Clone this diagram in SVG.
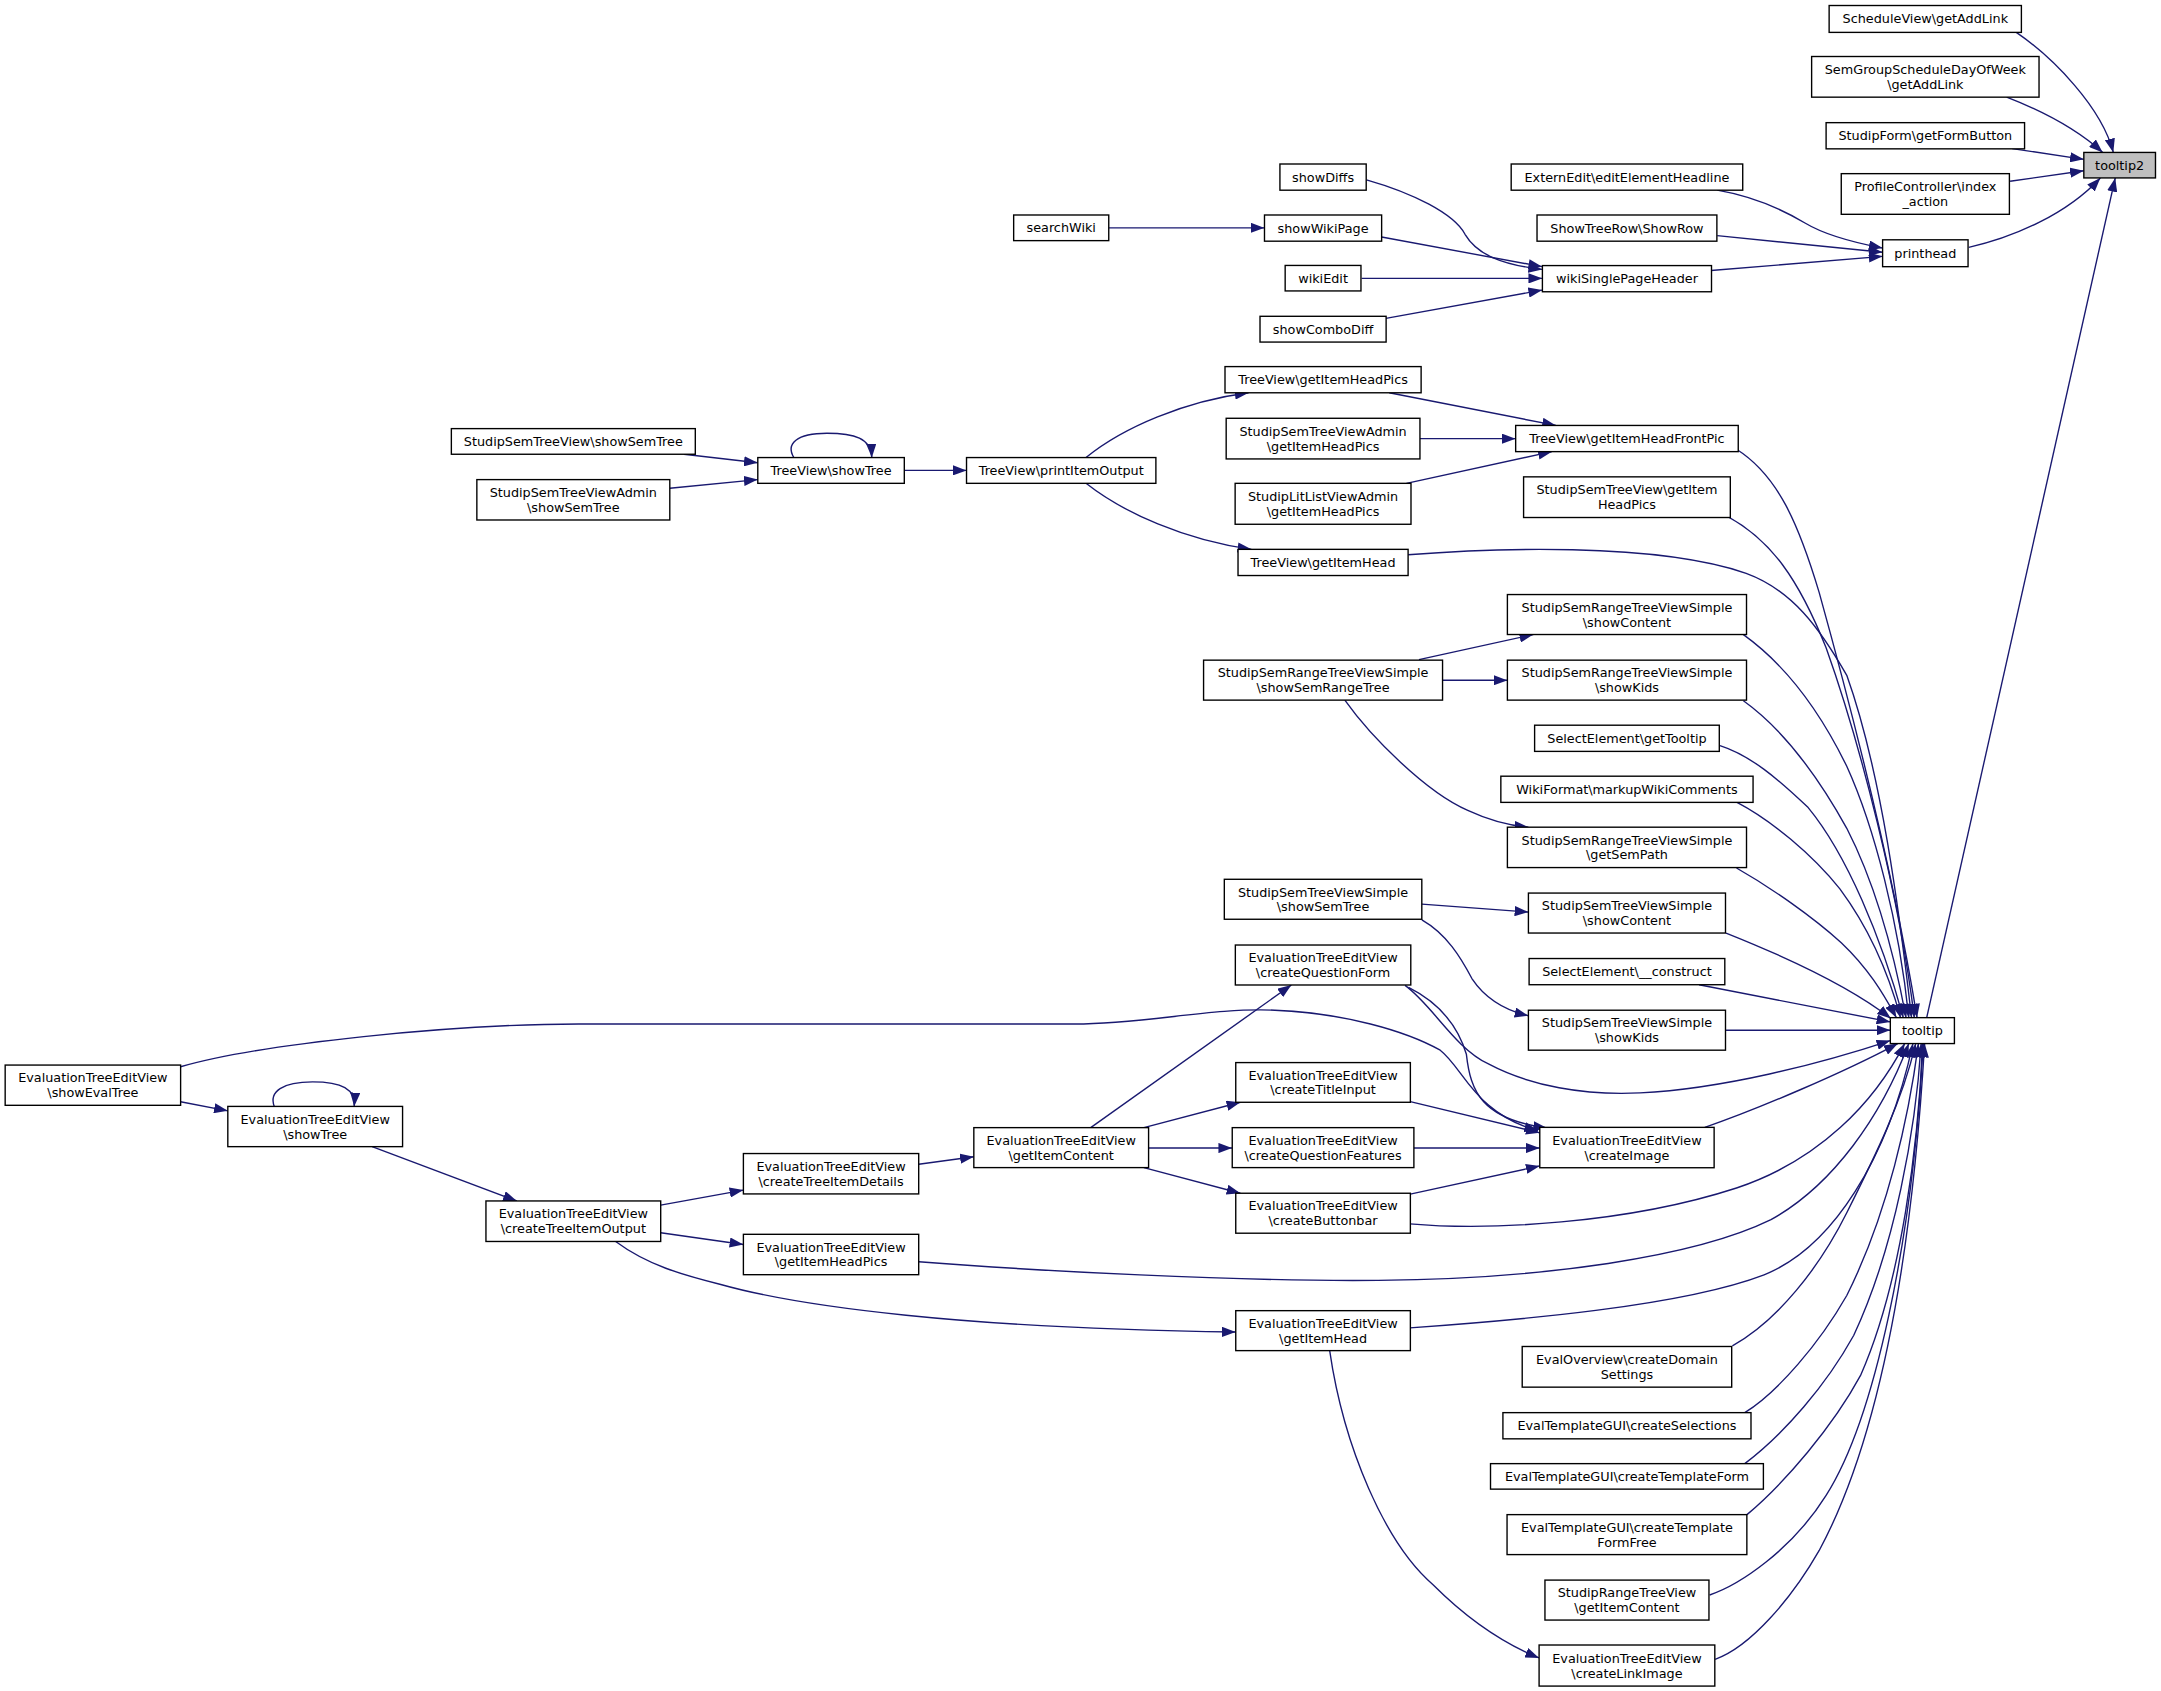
<svg xmlns="http://www.w3.org/2000/svg" width="2161" height="1691" viewBox="0 0 2161 1691">
<style>
.n rect{fill:#fff;stroke:#000;stroke-width:1}
.n.hl rect{fill:#bfbfbf}
.n text{font-family:"DejaVu Sans",sans-serif;font-size:9.3px;text-anchor:middle;fill:#000}
.e path{fill:none;stroke:#191970;stroke-width:1;marker-end:url(#ah)}
</style>
<defs>
<marker id="ah" viewBox="0 0 10 7.4" refX="10" refY="3.7" markerWidth="10" markerHeight="7.4" markerUnits="userSpaceOnUse" orient="auto"><path d="M0,0L10,3.7L0,7.4z" fill="#191970"/></marker>
</defs>
<rect width="2161" height="1691" fill="#fff"/>
<g transform="scale(1.37819)">
<g id="edges" class="e">
<path d="M1463,23.5 C1490,42 1525,78 1533.4,110.6"/>
<path d="M1456,70.5 C1478,79 1505,92 1525.7,110.6"/>
<path d="M1460,107.8 L1512,115.6"/>
<path d="M1458.5,131.5 L1512,123.9"/>
<path d="M1428.5,179.5 C1462,172 1500,155 1524,129.1"/>
<path d="M1398,738.4 L1534.8,129.1"/>
<path d="M1246,138 C1275,143 1295,153 1310,162 C1325,171 1345,176 1366,180"/>
<path d="M1246,171 L1366,183"/>
<path d="M1241.5,196.3 L1366,186"/>
<path d="M991.5,130.5 C1025,140 1055,155 1063,170 C1072,185 1090,192 1119,195.5"/>
<path d="M1002.5,172 L1119,193.5"/>
<path d="M988,202 L1119,202"/>
<path d="M1005.6,231 L1119,210.5"/>
<path d="M804.7,165.3 L917.5,165.3"/>
<path d="M1008,285 L1129,308.7"/>
<path d="M1030.3,318.3 L1099.7,318.3"/>
<path d="M1020.5,350.7 L1126,327.7"/>
<path d="M788,332 C815,310 860,291 906,285"/>
<path d="M788,350.7 C815,372 860,392 908,398.6"/>
<path d="M655.8,341.3 L701.3,341.3"/>
<path d="M576,332 C570,322 578,314.4 600,314.4 C620,314.4 632,318 632.6,332"/>
<path d="M496.3,329.6 L549.8,335.8"/>
<path d="M486,354.3 L549.8,348"/>
<path d="M1260,326 C1290,345 1305,380 1320,430 C1345,520 1375,640 1391,738.4"/>
<path d="M1254,375 C1285,392 1305,420 1325,470 C1350,540 1378,650 1389,738.4"/>
<path d="M1021.7,402.5 C1080,398 1200,393 1267,416 C1300,428 1320,455 1340,490 C1365,560 1378,660 1387,738.4"/>
<path d="M1265,460.5 C1295,482 1320,515 1340,556 C1360,600 1378,670 1385,738.4"/>
<path d="M1265,508.5 C1295,530 1320,565 1340,601 C1360,640 1374,690 1383,738.4"/>
<path d="M1248,541 C1270,548 1290,565 1312,586 C1340,620 1365,680 1381,738.4"/>
<path d="M1260,582 C1285,595 1315,620 1335,645 C1355,672 1370,705 1379,738.4"/>
<path d="M1260,629.8 C1285,644 1315,665 1336,684 C1355,702 1366,720 1376,738.4"/>
<path d="M1252.4,677 C1290,692 1340,714 1372,739"/>
<path d="M1232.8,714.5 L1371.6,741.5"/>
<path d="M1252.4,747.5 L1371.6,747.5"/>
<path d="M1019.5,715 C1040,730 1055,760 1080,772 C1110,788 1150,795 1190,793 C1250,790 1320,772 1371.6,755"/>
<path d="M1237,818 C1275,805 1338,778 1377,757.2"/>
<path d="M1023,888 C1080,893 1180,888 1260,862 C1320,842 1360,800 1382,757.2"/>
<path d="M666.7,915.5 C750,922 900,930 1000,929 C1120,928 1230,912 1285,885 C1330,860 1365,810 1385,757.2"/>
<path d="M1023,963.5 C1100,958 1220,948 1280,925 C1330,905 1370,840 1388,757.2"/>
<path d="M1257,976.5 C1290,958 1320,920 1340,880 C1360,840 1380,800 1390,757.2"/>
<path d="M1266,1025 C1290,1010 1320,975 1340,940 C1370,880 1385,810 1392,757.2"/>
<path d="M1266,1062 C1295,1040 1325,1005 1345,969 C1375,905 1390,820 1394,757.2"/>
<path d="M1267.6,1099 C1295,1076 1330,1035 1350,998 C1380,930 1392,830 1395,757.2"/>
<path d="M1240.5,1157.3 C1262,1150 1300,1125 1325,1085 C1360,1030 1388,900 1395.5,757.2"/>
<path d="M1244.5,1204 C1270,1195 1300,1160 1320,1125 C1355,1060 1385,950 1396.5,757.2"/>
<path d="M131,799.4 L165.3,806"/>
<path d="M199,802.8 C195,792 205,785 226.8,785 C248,785 258,790 257,802.8"/>
<path d="M270,832 L375,871.4"/>
<path d="M479.4,874.4 L539.4,863.5"/>
<path d="M479.4,894.5 L539.4,903"/>
<path d="M446.7,900.8 C470,918 495,925 523,932 C580,948 700,964 896.6,966.5"/>
<path d="M666.6,844.8 L706.6,839.3"/>
<path d="M791.4,818.2 L937,714.7"/>
<path d="M830,818.2 L900,799.8"/>
<path d="M833.4,833 L894.1,833"/>
<path d="M830,847.2 L900,865.8"/>
<path d="M1023.3,799.3 L1117.2,822"/>
<path d="M1025.9,833 L1117.2,833"/>
<path d="M1023.3,866.4 L1117.2,846"/>
<path d="M1022,716.5 C1045,728 1058,745 1064,765 C1067,792 1075,812 1122.5,818.5"/>
<path d="M131,774 C190,757 330,743 420,743 L780,743 C830,743 880,731 925,733 C975,735 1020,748 1045,762 C1062,775 1070,808 1116,820.5"/>
<path d="M964.8,980 C975,1050 1005,1120 1040,1150 C1065,1175 1090,1192 1116.7,1203"/>
<path d="M1029.6,478.6 L1112.5,460.4"/>
<path d="M1046.7,493.6 L1093.7,493.6"/>
<path d="M975.8,508 C995,535 1035,575 1065,588 C1080,595 1095,599 1109,600.2"/>
<path d="M1031.7,656 L1109,661.8"/>
<path d="M1031.7,667.5 C1050,678 1060,695 1068,710 C1078,725 1092,733 1109,737"/>
</g>
<g id="n_tooltip2" class="n hl"><rect x="1512" y="110.6" width="52" height="18.5"/><text x="1538" y="123.1">tooltip2</text></g>
<g id="n_tooltip" class="n"><rect x="1371.6" y="738.4" width="46.5" height="18.8"/><text x="1394.85" y="751.1">tooltip</text></g>
<g id="n_schedule" class="n"><rect x="1327.2" y="4" width="139.5" height="19.5"/><text x="1397" y="17.05">ScheduleView\getAddLink</text></g>
<g id="n_semgroup" class="n"><rect x="1314.5" y="41" width="165" height="29.5"/><text x="1397" y="53.75">SemGroupScheduleDayOfWeek</text><text x="1397" y="64.45">\getAddLink</text></g>
<g id="n_studipform" class="n"><rect x="1325" y="89" width="144" height="19"/><text x="1397" y="101.8">StudipForm\getFormButton</text></g>
<g id="n_profile" class="n"><rect x="1336" y="126" width="122" height="29.5"/><text x="1397" y="138.75">ProfileController\index</text><text x="1397" y="149.45">_action</text></g>
<g id="n_printhead" class="n"><rect x="1366" y="174" width="62" height="19.5"/><text x="1397" y="187.05">printhead</text></g>
<g id="n_extern" class="n"><rect x="1096.5" y="119" width="168" height="19"/><text x="1180.5" y="131.8">ExternEdit\editElementHeadline</text></g>
<g id="n_showrow" class="n"><rect x="1115.25" y="156" width="130.5" height="19"/><text x="1180.5" y="168.8">ShowTreeRow\ShowRow</text></g>
<g id="n_wsph" class="n"><rect x="1119.15" y="192.7" width="122.7" height="19"/><text x="1180.5" y="205.5">wikiSinglePageHeader</text></g>
<g id="n_frontpic" class="n"><rect x="1099.75" y="308.7" width="161.5" height="19"/><text x="1180.5" y="321.5">TreeView\getItemHeadFrontPic</text></g>
<g id="n_sstv_gihp" class="n"><rect x="1105.5" y="346" width="150" height="29.5"/><text x="1180.5" y="358.75">StudipSemTreeView\getItem</text><text x="1180.5" y="369.45">HeadPics</text></g>
<g id="n_semrange_sc" class="n"><rect x="1093.75" y="431.4" width="173.5" height="29"/><text x="1180.5" y="443.9">StudipSemRangeTreeViewSimple</text><text x="1180.5" y="454.6">\showContent</text></g>
<g id="n_semrange_sk" class="n"><rect x="1093.75" y="479" width="173.5" height="29"/><text x="1180.5" y="491.5">StudipSemRangeTreeViewSimple</text><text x="1180.5" y="502.2">\showKids</text></g>
<g id="n_gettooltip" class="n"><rect x="1113.5" y="526.2" width="134" height="19"/><text x="1180.5" y="539">SelectElement\getTooltip</text></g>
<g id="n_markup" class="n"><rect x="1089" y="563.2" width="183" height="19"/><text x="1180.5" y="576">WikiFormat\markupWikiComments</text></g>
<g id="n_getsempath" class="n"><rect x="1093.75" y="600.2" width="173.5" height="29.3"/><text x="1180.5" y="612.85">StudipSemRangeTreeViewSimple</text><text x="1180.5" y="623.55">\getSemPath</text></g>
<g id="n_sstvs_sc" class="n"><rect x="1109" y="648" width="143" height="29"/><text x="1180.5" y="660.5">StudipSemTreeViewSimple</text><text x="1180.5" y="671.2">\showContent</text></g>
<g id="n_construct" class="n"><rect x="1109.5" y="695.5" width="142" height="19"/><text x="1180.5" y="708.3">SelectElement\__construct</text></g>
<g id="n_sstvs_sk" class="n"><rect x="1109" y="733" width="143" height="29"/><text x="1180.5" y="745.5">StudipSemTreeViewSimple</text><text x="1180.5" y="756.2">\showKids</text></g>
<g id="n_createimage" class="n"><rect x="1117.25" y="818" width="126.5" height="29.3"/><text x="1180.5" y="830.65">EvaluationTreeEditView</text><text x="1180.5" y="841.35">\createImage</text></g>
<g id="n_evaloverview" class="n"><rect x="1104.5" y="977" width="152" height="29.5"/><text x="1180.5" y="989.75">EvalOverview\createDomain</text><text x="1180.5" y="1000.45">Settings</text></g>
<g id="n_createselections" class="n"><rect x="1090.5" y="1025" width="180" height="19"/><text x="1180.5" y="1037.8">EvalTemplateGUI\createSelections</text></g>
<g id="n_createtemplateform" class="n"><rect x="1081.5" y="1062" width="198" height="18.5"/><text x="1180.5" y="1074.55">EvalTemplateGUI\createTemplateForm</text></g>
<g id="n_formfree" class="n"><rect x="1093.5" y="1099" width="174" height="29"/><text x="1180.5" y="1111.5">EvalTemplateGUI\createTemplate</text><text x="1180.5" y="1122.2">FormFree</text></g>
<g id="n_rangetree" class="n"><rect x="1121" y="1146.5" width="119" height="29"/><text x="1180.5" y="1159">StudipRangeTreeView</text><text x="1180.5" y="1169.7">\getItemContent</text></g>
<g id="n_linkimage" class="n"><rect x="1116.75" y="1193.6" width="127.5" height="29.8"/><text x="1180.5" y="1206.5">EvaluationTreeEditView</text><text x="1180.5" y="1217.2">\createLinkImage</text></g>
<g id="n_showdiffs" class="n"><rect x="928.7" y="119" width="62.6" height="19"/><text x="960" y="131.8">showDiffs</text></g>
<g id="n_showwikipage" class="n"><rect x="917.5" y="156" width="85" height="19"/><text x="960" y="168.8">showWikiPage</text></g>
<g id="n_wikiedit" class="n"><rect x="932.5" y="192.6" width="55" height="18.5"/><text x="960" y="205.15">wikiEdit</text></g>
<g id="n_showcombodiff" class="n"><rect x="914.25" y="229.5" width="91.5" height="18.7"/><text x="960" y="242.15">showComboDiff</text></g>
<g id="n_tv_gihp" class="n"><rect x="888.85" y="266" width="142.3" height="19"/><text x="960" y="278.8">TreeView\getItemHeadPics</text></g>
<g id="n_sstva_gihp" class="n"><rect x="889.7" y="303.5" width="140.6" height="29.5"/><text x="960" y="316.25">StudipSemTreeViewAdmin</text><text x="960" y="326.95">\getItemHeadPics</text></g>
<g id="n_litlist" class="n"><rect x="896.2" y="350.7" width="127.6" height="29.7"/><text x="960" y="363.55">StudipLitListViewAdmin</text><text x="960" y="374.25">\getItemHeadPics</text></g>
<g id="n_tv_gih" class="n"><rect x="898.3" y="398.6" width="123.4" height="19"/><text x="960" y="411.4">TreeView\getItemHead</text></g>
<g id="n_showsemrangetree" class="n"><rect x="873.3" y="479" width="173.4" height="29"/><text x="960" y="491.5">StudipSemRangeTreeViewSimple</text><text x="960" y="502.2">\showSemRangeTree</text></g>
<g id="n_sstvs_sst" class="n"><rect x="888.35" y="638" width="143.3" height="29"/><text x="960" y="650.5">StudipSemTreeViewSimple</text><text x="960" y="661.2">\showSemTree</text></g>
<g id="n_cqf" class="n"><rect x="896.35" y="685.7" width="127.3" height="29"/><text x="960" y="698.2">EvaluationTreeEditView</text><text x="960" y="708.9">\createQuestionForm</text></g>
<g id="n_cti" class="n"><rect x="896.65" y="771" width="126.7" height="28.8"/><text x="960" y="783.4">EvaluationTreeEditView</text><text x="960" y="794.1">\createTitleInput</text></g>
<g id="n_cqfeat" class="n"><rect x="894.1" y="818.2" width="131.8" height="29"/><text x="960" y="830.7">EvaluationTreeEditView</text><text x="960" y="841.4">\createQuestionFeatures</text></g>
<g id="n_cbb" class="n"><rect x="896.65" y="865.8" width="126.7" height="29"/><text x="960" y="878.3">EvaluationTreeEditView</text><text x="960" y="889">\createButtonbar</text></g>
<g id="n_egih" class="n"><rect x="896.65" y="951" width="126.7" height="29"/><text x="960" y="963.5">EvaluationTreeEditView</text><text x="960" y="974.2">\getItemHead</text></g>
<g id="n_searchwiki" class="n"><rect x="735.5" y="156" width="69" height="18.6"/><text x="770" y="168.6">searchWiki</text></g>
<g id="n_printitemoutput" class="n"><rect x="701.3" y="332" width="137.4" height="18.7"/><text x="770" y="344.65">TreeView\printItemOutput</text></g>
<g id="n_getitemcontent" class="n"><rect x="706.6" y="818.2" width="126.8" height="29"/><text x="770" y="830.7">EvaluationTreeEditView</text><text x="770" y="841.4">\getItemContent</text></g>
<g id="n_tv_showtree" class="n"><rect x="549.85" y="332" width="106.3" height="18.7"/><text x="603" y="344.65">TreeView\showTree</text></g>
<g id="n_ctid" class="n"><rect x="539.4" y="837" width="127.2" height="29.3"/><text x="603" y="849.65">EvaluationTreeEditView</text><text x="603" y="860.35">\createTreeItemDetails</text></g>
<g id="n_egihp" class="n"><rect x="539.4" y="895.6" width="127.2" height="29.3"/><text x="603" y="908.25">EvaluationTreeEditView</text><text x="603" y="918.95">\getItemHeadPics</text></g>
<g id="n_sstv_sst" class="n"><rect x="327.5" y="311" width="177" height="18.6"/><text x="416" y="323.6">StudipSemTreeView\showSemTree</text></g>
<g id="n_sstva_sst" class="n"><rect x="346" y="348" width="140" height="29.3"/><text x="416" y="360.65">StudipSemTreeViewAdmin</text><text x="416" y="371.35">\showSemTree</text></g>
<g id="n_ctio" class="n"><rect x="352.6" y="871.4" width="126.8" height="29.4"/><text x="416" y="884.1">EvaluationTreeEditView</text><text x="416" y="894.8">\createTreeItemOutput</text></g>
<g id="n_eshowtree" class="n"><rect x="165.3" y="802.8" width="126.8" height="29.2"/><text x="228.7" y="815.4">EvaluationTreeEditView</text><text x="228.7" y="826.1">\showTree</text></g>
<g id="n_showevaltree" class="n"><rect x="3.75" y="772.8" width="127.3" height="29.2"/><text x="67.4" y="785.4">EvaluationTreeEditView</text><text x="67.4" y="796.1">\showEvalTree</text></g>
</g>
</svg>
